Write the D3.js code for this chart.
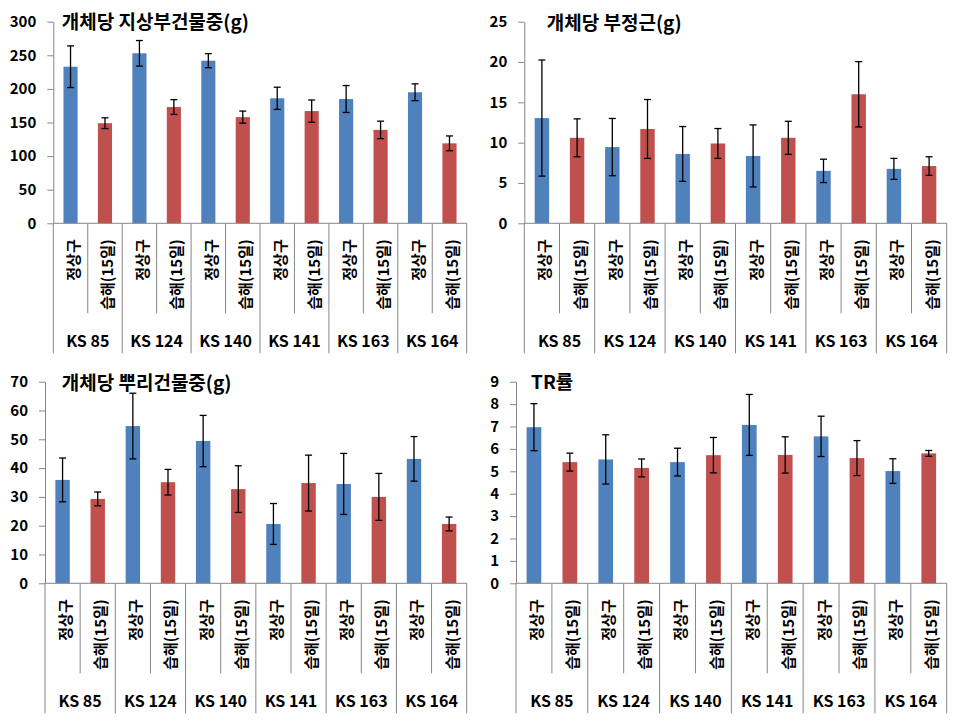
<!DOCTYPE html>
<html><head><meta charset="utf-8">
<script src="https://cdn.jsdelivr.net/npm/d3@7"></script>
<style>body{margin:0;background:#fff}svg{display:block}text{font-family:"Noto Sans CJK KR","Noto Sans",sans-serif;font-weight:bold;fill:#000}</style>
</head><body><svg id="c" width="962" height="722"></svg>
<script>
const groups = ["KS 85","KS 124","KS 140","KS 141","KS 163","KS 164"];
const treatments = ["정상구","습해(15일)"];
const titles = ["개체당 지상부건물중(g)","개체당 부정근(g)","개체당 뿌리건물중(g)","TR률"];
const yMax = [300,25,70,9];
const yStep = [50,5,10,1];
// values in order: group1 정상구, group1 습해, group2 정상구, ...
const shootMean = [233,149,253,173,242,158,186,167,185,139,195,119];
const shootErr  = [31,8,19,11,10.5,9,16.5,16.5,20,13,12.5,11];
const advRootMean = [13.05,10.6,9.45,11.7,8.6,9.9,8.35,10.6,6.5,16.0,6.75,7.1];
const advRootErr  = [7.2,2.35,3.55,3.65,3.4,1.85,3.85,2.05,1.45,4.05,1.3,1.15];
const rootMean = [35.9,29.3,54.6,35.1,49.4,32.7,20.6,34.8,34.5,30.0,43.2,20.6];
const rootErr  = [7.6,2.4,11.4,4.45,8.9,8.1,7.1,9.7,10.6,8.15,7.75,2.4];
const trMean = [6.97,5.41,5.53,5.15,5.41,5.72,7.07,5.73,6.56,5.59,5.01,5.80];
const trErr  = [1.05,0.4,1.1,0.4,0.62,0.79,1.36,0.81,0.9,0.78,0.55,0.13];

const colors = {"정상구":"#4F81BD","습해(15일)":"#C0504D"};
const svg = d3.select("#c");

const panels = [
  {x0:53.3,x1:466.7,yT:21.7,yB:223.3,mean:shootMean,err:shootErr,tx:61.7,ty:29},
  {x0:524.3,x1:946.7,yT:21.7,yB:223.3,mean:advRootMean,err:advRootErr,tx:546.7,ty:30},
  {x0:45,x1:466.7,yT:381.7,yB:583.3,mean:rootMean,err:rootErr,tx:61.7,ty:390},
  {x0:516,x1:946.7,yT:381.7,yB:583.3,mean:trMean,err:trErr,tx:531,ty:389}
];

panels.forEach((p,pi)=>{
  const g = svg.append("g");
  const keys = [];
  groups.forEach(gr=>treatments.forEach(t=>keys.push(gr+"|"+t)));
  const x = d3.scaleBand().domain(keys).range([p.x0,p.x1]).paddingInner(0).paddingOuter(0);
  const y = d3.scaleLinear().domain([0,yMax[pi]]).range([p.yB,p.yT]);
  const bw = x.bandwidth()*0.41;
  const data = keys.map((k,i)=>({k,t:k.split("|")[1],g:k.split("|")[0],v:p.mean[i],e:p.err[i]}));

  // y axis
  const ticks = d3.range(0,yMax[pi]+yStep[pi]/2,yStep[pi]);
  const ya = g.append("g").attr("transform",`translate(${p.x0},0)`)
    .call(d3.axisLeft(y).tickValues(ticks).tickSize(6).tickSizeOuter(0).tickPadding(11));
  ya.select(".domain").attr("stroke","#868686");
  ya.selectAll(".tick line").attr("stroke","#868686");
  ya.selectAll(".tick text").style("font-size","15px").style("font-family","'Noto Sans CJK KR',sans-serif").style("font-weight","bold").attr("fill","#000");

  // bars
  g.selectAll("rect.bar").data(data).join("rect")
    .attr("x",d=>x(d.k)+x.bandwidth()/2-bw/2).attr("width",bw)
    .attr("y",d=>y(d.v)).attr("height",d=>y(0)-y(d.v))
    .attr("fill",d=>colors[d.t]);

  // x axis line
  g.append("line").attr("x1",p.x0).attr("x2",p.x1).attr("y1",y(0)).attr("y2",y(0)).attr("stroke","#868686");

  // dividers
  keys.forEach((k,i)=>{
    const xx = x(k);
    const isGroup = i%2===0;
    g.append("line").attr("x1",xx).attr("x2",xx).attr("y1",y(0)).attr("y2",y(0)+(isGroup?130:90)).attr("stroke","#868686");
  });
  g.append("line").attr("x1",p.x1).attr("x2",p.x1).attr("y1",y(0)).attr("y2",y(0)+130).attr("stroke","#868686");

  // error bars
  const eb = g.selectAll("g.eb").data(data).join("g");
  eb.append("line").attr("x1",d=>x(d.k)+x.bandwidth()/2).attr("x2",d=>x(d.k)+x.bandwidth()/2)
    .attr("y1",d=>y(d.v+d.e)).attr("y2",d=>y(d.v-d.e)).attr("stroke","#000").attr("stroke-width",1.3);
  ["+","-"].forEach(s=>{
    eb.append("line").attr("x1",d=>x(d.k)+x.bandwidth()/2-3.5).attr("x2",d=>x(d.k)+x.bandwidth()/2+3.5)
      .attr("y1",d=>y(s==="+"?d.v+d.e:d.v-d.e)).attr("y2",d=>y(s==="+"?d.v+d.e:d.v-d.e))
      .attr("stroke","#000").attr("stroke-width",1.3);
  });

  // treatment labels (rotated)
  g.selectAll("text.tl").data(data).join("text")
    .attr("transform",d=>`translate(${x(d.k)+x.bandwidth()/2+2},${y(0)+16}) rotate(-90)`)
    .attr("text-anchor","end").attr("dominant-baseline","central")
    .style("font-size","15px").text(d=>d.t);

  // group labels
  groups.forEach(gr=>{
    const cx = x(gr+"|"+treatments[0]) + x.bandwidth();
    g.append("text").attr("x",cx).attr("y",y(0)+117).attr("text-anchor","middle")
      .attr("dominant-baseline","central").style("font-size","16px").text(gr);
  });

  // title
  g.append("text").attr("x",p.tx).attr("y",p.ty).style("font-size","19px").text(titles[pi]);
});
</script></body></html>
